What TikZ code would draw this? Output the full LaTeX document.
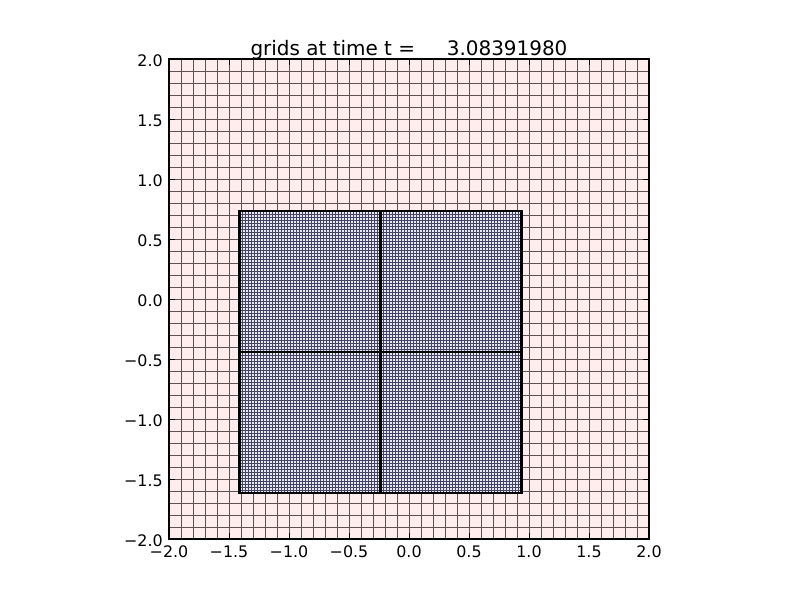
\documentclass[tikz,border=0pt]{standalone}
\usepackage{fontspec}
\setmainfont{DejaVu Sans}
\definecolor{coarsefill}{RGB}{255,236,236}
\definecolor{coarseline}{RGB}{95,82,82}
\definecolor{finefill}{RGB}{232,232,245}
\definecolor{fineline}{RGB}{68,68,98}
\begin{document}
\begin{tikzpicture}[x=3cm,y=3cm,
  ticklab/.style={font=\fontsize{11.3}{13}\selectfont, inner sep=0pt},
  tickmark/.style={line width=0.6pt, black},
  coarsegrid/.style={coarseline, line width=0.6pt},
  finegrid/.style={fineline, line width=0.42pt},
  patchborder/.style={black, line width=1.5pt}]
\useasboundingbox (-3.4083,-2.5083) rectangle (3.2583,2.4917);
% coarse level
\fill[coarsefill] (-2,-2) rectangle (2,2);
\foreach \i in {1,...,39} {
  \draw[coarsegrid] ({-2+\i*0.1},-2) -- ({-2+\i*0.1},2);
  \draw[coarsegrid] (-2,{-2+\i*0.1}) -- (2,{-2+\i*0.1});
}
% fine level
\def\fx{-1.4125}
\def\fy{-1.62}
\fill[finefill] (\fx,\fy) rectangle ++(2.35,2.35);
\foreach \i in {0,...,94} {
  \draw[finegrid] ({\fx+\i*0.025},\fy) -- ++(0,2.35);
  \draw[finegrid] (\fx,{\fy+\i*0.025}) -- ++(2.35,0);
}
\draw[patchborder] (\fx,\fy) rectangle ++(2.35,2.35);
\draw[patchborder] ({\fx+1.175},\fy) -- ++(0,2.35);
\draw[patchborder] (\fx,{\fy+1.175}) -- ++(2.35,0);
% axes frame
\draw[line width=1pt] (-2,-2) rectangle (2,2);
% ticks and labels
\foreach \v/\l [count=\k] in {-2/−2.0,-1.5/−1.5,-1/−1.0,-0.5/−0.5,0/0.0,0.5/0.5,1/1.0,1.5/1.5,2/2.0} {
  \draw[tickmark] (\v,-2) -- ++(0,0.046);
  \draw[tickmark] (\v,2) -- ++(0,-0.046);
  \draw[tickmark] (-2,\v) -- ++(0.046,0);
  \draw[tickmark] (2,\v) -- ++(-0.046,0);
  \node[ticklab, anchor=base] (xl\k) at (\v,-2.1525) {\l};
  \node[ticklab, anchor=base east] (yl\k) at (-2.05,{\v-0.0625}) {\l};
}
% title
\node[font=\fontsize{14.2}{16}\selectfont, anchor=base, inner sep=0pt] (title) at (0,2.0333) {grids at time t =~~~~~3.08391980};
\end{tikzpicture}
\end{document}
